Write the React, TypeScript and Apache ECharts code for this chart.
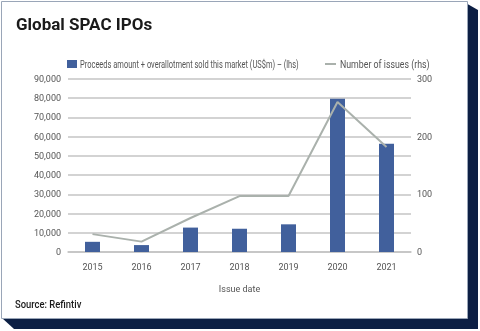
import React, { useEffect, useRef } from "react";
import * as echarts from "echarts";

const years = ["2015", "2016", "2017", "2018", "2019", "2020", "2021"];
const proceeds = [5300, 3600, 12700, 12100, 14400, 79700, 56300];
const issues = [31, 18, 59, 97, 97, 260, 182];
const barName = "Proceeds amount + overallotment sold this market (US$m) – (lhs)";
const lineName = "Number of issues (rhs)";
const FONT = "Roboto, sans-serif";
const BAR_COLOR = "#41609c";
const LINE_COLOR = "#aab1ac";

export default function App() {
  const ref = useRef<HTMLDivElement>(null);
  useEffect(() => {
    const chart = echarts.init(ref.current!, null, { renderer: "svg" });
    chart.setOption({
      animation: false,
      graphic: [
        {
          type: "polygon",
          z: -10,
          shape: { points: [[464, 2], [478, 10], [478, 329], [14, 329], [2, 318]] },
          style: { fill: "#0c1f44" },
        },
        {
          type: "rect",
          z: -9,
          shape: { x: 1.5, y: 1.5, width: 466, height: 317 },
          style: { fill: "#ffffff", stroke: "#9aa6b8", lineWidth: 1 },
        },
        {
          type: "text",
          x: 16,
          y: 24,
          style: { text: "Global SPAC IPOs", fill: "#1a1a1a", font: "bold 17px Roboto, sans-serif", verticalAlign: "middle" },
        },
        {
          type: "text",
          x: 15,
          y: 304,
          scaleX: 0.9,
          style: { text: "Source: Refintiv", fill: "#1a1a1a", font: "500 10.5px Roboto, sans-serif", verticalAlign: "middle" },
        },
        {
          type: "rect",
          shape: { x: 67, y: 60, width: 10, height: 8 },
          style: { fill: BAR_COLOR },
        },
        {
          type: "text",
          x: 80,
          y: 64.5,
          scaleX: 0.75,
          style: { text: barName, fill: "#555", font: "10px Roboto, sans-serif", verticalAlign: "middle" },
        },
        {
          type: "line",
          shape: { x1: 325, y1: 64, x2: 336, y2: 64 },
          style: { stroke: LINE_COLOR, lineWidth: 2 },
        },
        {
          type: "text",
          x: 340,
          y: 64.5,
          scaleX: 0.88,
          style: { text: lineName, fill: "#555", font: "10px Roboto, sans-serif", verticalAlign: "middle" },
        },
      ],
      legend: { show: false, data: [barName, lineName] },
      grid: { left: 68, right: 69, top: 79, bottom: 79 },
      xAxis: {
        type: "category",
        data: years,
        name: "Issue date",
        nameLocation: "middle",
        nameGap: 32,
        nameTextStyle: { color: "#555", fontSize: 9, fontFamily: FONT },
        axisLine: { lineStyle: { color: "#c4c4c4", width: 1.5 } },
        axisTick: { show: false },
        axisLabel: { color: "#555", fontSize: 9, margin: 10, fontFamily: FONT },
      },
      yAxis: [
        {
          type: "value",
          min: 0,
          max: 90000,
          interval: 10000,
          axisLine: { show: false },
          axisTick: { show: false },
          axisLabel: {
            color: "#555",
            fontSize: 9,
            margin: 7,
            fontFamily: FONT,
            formatter: (v: number) => v.toLocaleString("en-US"),
          },
          splitLine: { lineStyle: { color: "#c4c4c4", width: 1.5 } },
        },
        {
          type: "value",
          min: 0,
          max: 300,
          interval: 100,
          axisLine: { show: false },
          axisTick: { show: false },
          axisLabel: { color: "#555", fontSize: 9, margin: 6, fontFamily: FONT },
          splitLine: { show: false },
        },
      ],
      series: [
        {
          name: barName,
          type: "bar",
          data: proceeds,
          barWidth: 15,
          itemStyle: { color: BAR_COLOR },
        },
        {
          name: lineName,
          type: "line",
          yAxisIndex: 1,
          data: issues,
          symbol: "none",
          lineStyle: { color: LINE_COLOR, width: 2 },
          itemStyle: { color: LINE_COLOR },
        },
      ],
    });
    return () => chart.dispose();
  }, []);
  return <div ref={ref} style={{ position: "fixed", left: 0, top: 0, width: 480, height: 331 }} />;
}
